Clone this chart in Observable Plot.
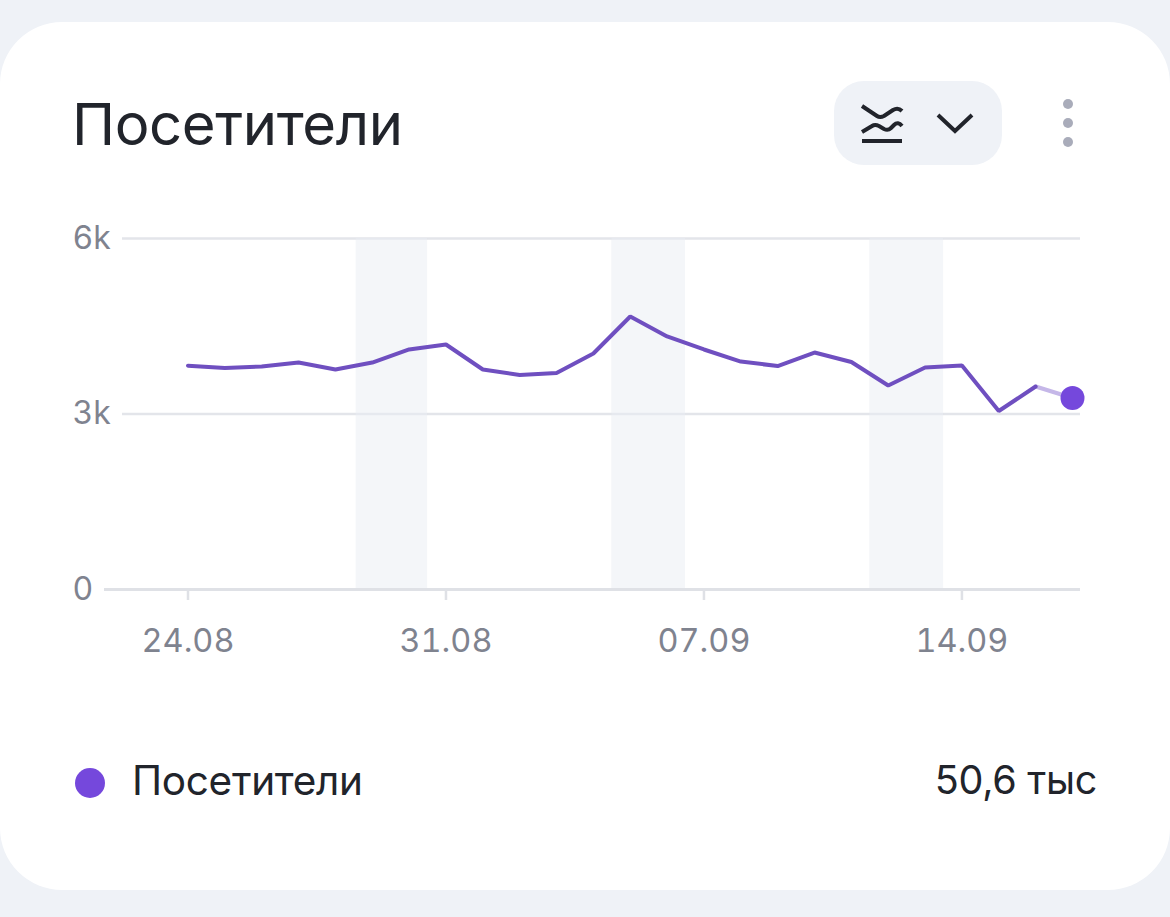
<!DOCTYPE html>
<html><head><meta charset="utf-8">
<script src="https://cdn.jsdelivr.net/npm/d3@7"></script>
<script src="https://cdn.jsdelivr.net/npm/@observablehq/plot@0.6"></script>
<style>
html,body{margin:0;padding:0;background:#eff2f7;width:1170px;height:917px;overflow:hidden;font-family:Inter,sans-serif}
#card{position:absolute;left:0;top:22px;width:1170px;height:868px;background:#fff;border-radius:62px}
.t{position:absolute;white-space:nowrap;line-height:1}
#title{left:72px;top:95px;font-size:58px;color:#21242b;letter-spacing:-.4px}
#btn{position:absolute;left:834px;top:81px;width:168px;height:84px;background:#eff2f7;border-radius:30px}
#chart{position:absolute;left:0;top:190px}
#chart svg{display:block}
#ldot{position:absolute;left:75px;top:768px;width:30px;height:30px;border-radius:50%;background:#7548dc}
#lname{left:132px;top:761px;font-size:40.5px;color:#21242b;letter-spacing:-.3px}
#lval{right:73px;top:761px;font-size:39.5px;color:#21242b;letter-spacing:-.3px}
.m{position:absolute;left:1063px;width:10px;height:10px;border-radius:50%;background:#a9acba}
</style></head><body>
<div id="card"></div>
<div class="t" id="title">Посетители</div>
<div id="btn"></div>
<svg style="position:absolute;left:855px;top:100px" width="60" height="48" fill="none" stroke="#21242b" stroke-width="4">
<path d="M7 6 L22 16 Q25 18 29 16 L38 10 Q43 7 47 11"/>
<path d="M7 32 L17 26 Q20 24 24 26 L29 29 Q33 31 36 28 L39 25 Q43 21 47 26"/>
<path d="M7 41 H47" stroke-width="4"/>
</svg>
<svg style="position:absolute;left:935px;top:110px" width="40" height="26" fill="none" stroke="#21242b" stroke-width="4"><path d="M3 5 L20 21 L37 5"/></svg>
<div class="m" style="top:99px"></div><div class="m" style="top:118px"></div><div class="m" style="top:137px"></div>
<div id="chart"></div>
<div id="ldot"></div>
<div class="t" id="lname">Посетители</div>
<div class="t" id="lval">50,6 тыс</div>
<script>
const dates = ["2025-08-24","2025-08-25","2025-08-26","2025-08-27","2025-08-28","2025-08-29","2025-08-30","2025-08-31","2025-09-01","2025-09-02","2025-09-03","2025-09-04","2025-09-05","2025-09-06","2025-09-07","2025-09-08","2025-09-09","2025-09-10","2025-09-11","2025-09-12","2025-09-13","2025-09-14","2025-09-15","2025-09-16","2025-09-17"];
const visitors = [3825,3786,3812,3880,3761,3880,4103,4188,3761,3667,3701,4034,4667,4325,4103,3897,3820,4051,3889,3487,3795,3829,3051,3470,3274];
const bandStarts = ["2025-08-28T13:30Z","2025-09-04T12:00Z","2025-09-11T12:00Z"];
const bandEnds = ["2025-08-30T12:00Z","2025-09-06T12:00Z","2025-09-13T12:00Z"];
const xTicks = ["2025-08-24","2025-08-31","2025-09-07","2025-09-14"];
const yTicks = [0,3000,6000];
const rows = dates.map((d,i)=>({date:new Date(d),value:visitors[i]}));
const bands = bandStarts.map((s,i)=>({x1:new Date(s),x2:new Date(bandEnds[i])}));
const solid = rows.slice(0,-1), partial = rows.slice(-2), last = rows.slice(-1);
const plot = Plot.plot({
  width:1170,height:480,marginLeft:104,marginRight:90,marginTop:48,marginBottom:81,
  style:{fontFamily:"Inter, sans-serif",background:"transparent",overflow:"visible"},
  x:{type:"utc",domain:[rows[0].date,rows[rows.length-1].date],range:[187.5,1072],label:null},
  y:{domain:[0,6000],label:null},
  marks:[
    Plot.ruleY([3000,6000],{stroke:"#e3e5ea",strokeWidth:2.5,insetLeft:18}),
    Plot.rectY(bands,{x1:"x1",x2:"x2",y1:0,y2:6000,fill:"#eaeef4",fillOpacity:.5}),
    Plot.ruleY([0],{stroke:"#dfe1e6",strokeWidth:3}),
    Plot.axisX({ticks:xTicks.map(d=>new Date(d)),tickFormat:d3.utcFormat("%d.%m"),tickSize:11,tickPadding:28,stroke:"#dfe1e6",strokeWidth:2.5,strokeOpacity:1,color:"#7f838f",fontSize:32.5,label:null}),
    Plot.axisY({ticks:yTicks,tickFormat:d=>d===0?"0":d/1000+"k",tickSize:0,tickPadding:32,textAnchor:"start",color:"#7f838f",fontSize:32,label:null}),
    Plot.line(partial,{x:"date",y:"value",stroke:"#c5b7e8",strokeWidth:4}),
    Plot.line(solid,{x:"date",y:"value",stroke:"#6f4fc0",strokeWidth:4,strokeLinejoin:"miter"}),
    Plot.dot(last,{x:"date",y:"value",r:12,fill:"#7548dc"})
  ]
});
document.getElementById("chart").appendChild(plot);
</script>
</body></html>
